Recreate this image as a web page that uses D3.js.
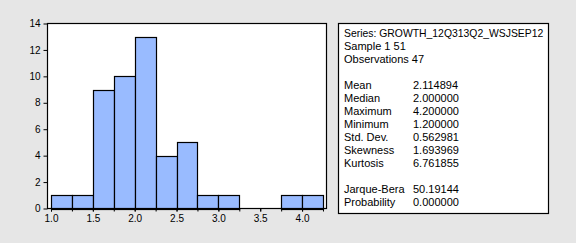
<!DOCTYPE html>
<html>
<head>
<meta charset="utf-8">
<script src="https://cdn.jsdelivr.net/npm/d3@7"></script>
<style>
  body { margin: 0; background: #e6e6e6; }
  svg { display: block; }
  text { font-family: Arial, "Liberation Sans", sans-serif; font-size: 11px; fill: #000; }
</style>
</head>
<body>
<svg id="chart" width="576" height="243"></svg>
<script>
// histogram bins (lower edge) and counts
let binStarts = [1.0, 1.25, 1.5, 1.75, 2.0, 2.25, 2.5, 2.75, 3.0, 3.25, 3.5, 3.75, 4.0]
let counts = [1, 1, 9, 10, 13, 4, 5, 1, 1, 0, 0, 1, 1]
let binWidth = 0.25
let xTicks = [1.0, 1.5, 2.0, 2.5, 3.0, 3.5, 4.0]
let xMinorTicks = [1.0, 1.25, 1.5, 1.75, 2.0, 2.25, 2.5, 2.75, 3.0, 3.25, 3.5, 3.75, 4.0, 4.25]
let yTicks = [0, 2, 4, 6, 8, 10, 12, 14]

let headerLines = ["Series: GROWTH_12Q313Q2_WSJSEP12", "Sample 1 51", "Observations 47"]
let statNames = ["Mean", "Median", "Maximum", "Minimum", "Std. Dev.", "Skewness", "Kurtosis"]
let statValues = ["2.114894", "2.000000", "4.200000", "1.200000", "0.562981", "1.693969", "6.761855"]
let testNames = ["Jarque-Bera", "Probability"]
let testValues = ["50.19144", "0.000000"]

let svg = d3.select("#chart")

let plotL = 47.5, plotR = 326.5, plotT = 23.5, plotB = 208.5

let xScale = d3.scaleLinear().domain([0.958, 4.292]).range([plotL, plotR])
let yScale = d3.scaleLinear().domain([0, 14]).range([plotB, plotT])

// plot background
svg.append("rect")
  .attr("x", plotL).attr("y", plotT)
  .attr("width", plotR - plotL).attr("height", plotB - plotT)
  .attr("fill", "#fff")

// bars
svg.append("g").selectAll("rect")
  .data(binStarts.map((b, i) => ({ x0: b, x1: b + binWidth, n: counts[i] })).filter(d => d.n > 0))
  .enter()
  .append("rect")
  .attr("x", d => Math.round(xScale(d.x0)) + 0.5)
  .attr("y", d => Math.round(yScale(d.n)) + 0.5)
  .attr("width", d => Math.round(xScale(d.x1)) - Math.round(xScale(d.x0)))
  .attr("height", d => Math.round(yScale(0)) - Math.round(yScale(d.n)))
  .attr("fill", "#99bbff")
  .attr("stroke", "#000")
  .attr("stroke-width", 1.2)

// frame
svg.append("rect")
  .attr("x", plotL).attr("y", plotT)
  .attr("width", plotR - plotL).attr("height", plotB - plotT)
  .attr("fill", "none")
  .attr("stroke", "#000")
  .attr("stroke-width", 1.2)

// y axis
let yAxis = d3.axisLeft(yScale).tickValues(yTicks).tickSize(4).tickPadding(3).tickFormat(d3.format("d"))
let yAxisGroup = svg.append("g")
  .attr("transform", `translate(${plotL},0)`)
  .call(yAxis)
yAxisGroup.select(".domain").remove()
yAxisGroup.selectAll("text").style("font-size", "10px").style("font-family", "Arial, 'Liberation Sans', sans-serif")

// x axis minor ticks + labels
let xAxisMinor = d3.axisBottom(xScale).tickValues(xMinorTicks).tickSize(3).tickFormat("")
let xMinorGroup = svg.append("g")
  .attr("transform", `translate(0,${plotB})`)
  .call(xAxisMinor)
xMinorGroup.select(".domain").remove()

let xAxis = d3.axisBottom(xScale).tickValues(xTicks).tickSize(3).tickPadding(3).tickFormat(d3.format(".1f"))
let xAxisGroup = svg.append("g")
  .attr("transform", `translate(0,${plotB})`)
  .call(xAxis)
xAxisGroup.select(".domain").remove()
xAxisGroup.selectAll("text").style("font-size", "10px").style("font-family", "Arial, 'Liberation Sans', sans-serif")

// stats box
let box = svg.append("g")
box.append("rect")
  .attr("x", 338.5).attr("y", 23.5)
  .attr("width", 210).attr("height", 190)
  .attr("fill", "#fff")
  .attr("stroke", "#000")
  .attr("stroke-width", 1.2)

let lineH = 13
let textX = 344, valX = 413
let firstY = 37

box.selectAll("text.hdr")
  .data(headerLines)
  .enter()
  .append("text")
  .attr("class", "hdr")
  .attr("x", textX)
  .attr("y", (d, i) => firstY + i * lineH)
  .style("font-size", (d, i) => i == 0 ? "10.4px" : "11px")
  .text(d => d)

let statY0 = firstY + 4 * lineH
statNames.forEach((s, i) => {
  box.append("text").attr("x", textX).attr("y", statY0 + i * lineH).text(s)
  box.append("text").attr("x", valX).attr("y", statY0 + i * lineH).text(statValues[i])
})

let testY0 = statY0 + 8 * lineH
testNames.forEach((s, i) => {
  box.append("text").attr("x", textX).attr("y", testY0 + i * lineH).text(s)
  box.append("text").attr("x", valX).attr("y", testY0 + i * lineH).text(testValues[i])
})
</script>
</body>
</html>
